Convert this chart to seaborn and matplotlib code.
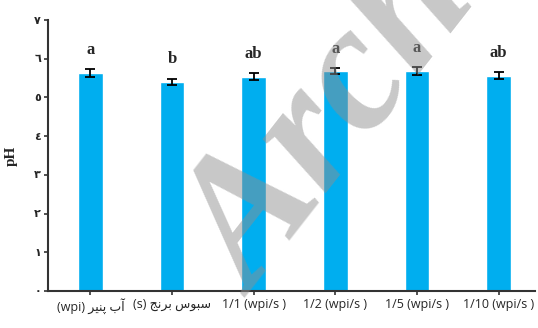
"""pH of whey / rice bran treatments, bar chart with error bars."""

import matplotlib
matplotlib.use("Agg")
import matplotlib.pyplot as plt
import seaborn as sns
import pandas as pd

# ---- data ----
treatments = ["آب پنیر (wpi)", "سبوس برنج (s)", "1/1 (wpi/s )",
              "1/2 (wpi/s )", "1/5 (wpi/s )", "1/10 (wpi/s )"]
ph_mean = [5.63, 5.40, 5.53, 5.68, 5.68, 5.56]
ph_err = [0.10, 0.08, 0.09, 0.07, 0.10, 0.09]
groups = ["a", "b", "ab", "a", "a", "ab"]
y_ticks = [0, 1, 2, 3, 4, 5, 6, 7]
y_tick_labels = ["٠", "١", "٢", "٣", "٤", "٥", "٦", "٧"]

BAR_COLOR = "#00aeef"

# minimal Arabic/Persian shaping (matplotlib draws letters unjoined otherwise)
FORMS = {
    "آ": ("\ufe81", "\ufe82", None, None),
    "ب": ("\ufe8f", "\ufe90", "\ufe91", "\ufe92"),
    "پ": ("\ufb56", "\ufb57", "\ufb58", "\ufb59"),
    "ن": ("\ufee5", "\ufee6", "\ufee7", "\ufee8"),
    "ی": ("\ufbfc", "\ufbfd", "\ufbfe", "\ufbff"),
    "ر": ("\ufead", "\ufeae", None, None),
    "س": ("\ufeb1", "\ufeb2", "\ufeb3", "\ufeb4"),
    "و": ("\ufeed", "\ufeee", None, None),
    "ج": ("\ufe9d", "\ufe9e", "\ufe9f", "\ufea0"),
}


def shape_word(word):
    out = []
    for i, ch in enumerate(word):
        iso, fin, ini, med = FORMS[ch]
        prev_joins = i > 0 and FORMS[word[i - 1]][2] is not None
        next_ok = i < len(word) - 1 and ini is not None
        if prev_joins and next_ok:
            out.append(med)
        elif prev_joins:
            out.append(fin)
        elif next_ok:
            out.append(ini)
        else:
            out.append(iso)
    return "".join(out)


def display_label(label):
    # Persian words then a latin tag in parentheses -> visual LTR order
    if not any(c in FORMS for c in label):
        return label
    words, tag = label.rsplit(" ", 1)
    shaped = " ".join(shape_word(w) for w in words.split(" "))
    return tag + " " + shaped[::-1]


df = pd.DataFrame({"treatment": treatments, "ph": ph_mean})

sns.set_theme(style="white")
plt.rcParams["font.family"] = ["Liberation Serif", "DejaVu Sans"]

fig = plt.figure(figsize=(5.38, 3.28), dpi=100)
ax = fig.add_axes([0.089, 0.113, 0.906, 0.826])

sns.barplot(data=df, x="treatment", y="ph", color=BAR_COLOR, saturation=1,
            width=0.3, errorbar=None, ax=ax)
ax.errorbar(range(len(ph_mean)), ph_mean, yerr=ph_err, fmt="none",
            ecolor="black", elinewidth=1.3, capsize=3.5, capthick=1.3)

for i, (m, e, g) in enumerate(zip(ph_mean, ph_err, groups)):
    ax.text(i, m + e + 0.3, g, ha="center", va="bottom", fontsize=12,
            fontweight="bold", family=["Liberation Serif", "DejaVu Sans"])

ax.set_ylim(0, 7)
ax.set_xlim(-0.52, 5.45)
ax.set_yticks(y_ticks)
ax.set_yticklabels(y_tick_labels, fontsize=8, fontweight="bold")
ax.set_xticks(range(len(treatments)))
ax.set_xticklabels([display_label(t) for t in treatments], fontsize=9,
                   family=["Open Sans", "DejaVu Sans"])
ax.set_xlabel("")
ax.set_ylabel("pH", fontsize=11, fontweight="bold", labelpad=12)

ax.tick_params(axis="both", direction="out", length=3, width=1.2,
               color="#333333", left=True, bottom=True, pad=2)
for side in ["top", "right"]:
    ax.spines[side].set_visible(False)
for side in ["left", "bottom"]:
    ax.spines[side].set_color("#333333")
    ax.spines[side].set_linewidth(1.5)

# watermark of the source scan
fig.text(254 / 538, 1 - 298 / 328, "Archive", rotation=52,
         rotation_mode="anchor", ha="left", va="baseline", fontsize=130,
         fontweight="bold", fontstyle="italic", color="#8f8f8f", alpha=0.49,
         family="Liberation Serif", zorder=10)

fig.savefig("out.png", dpi=100)
